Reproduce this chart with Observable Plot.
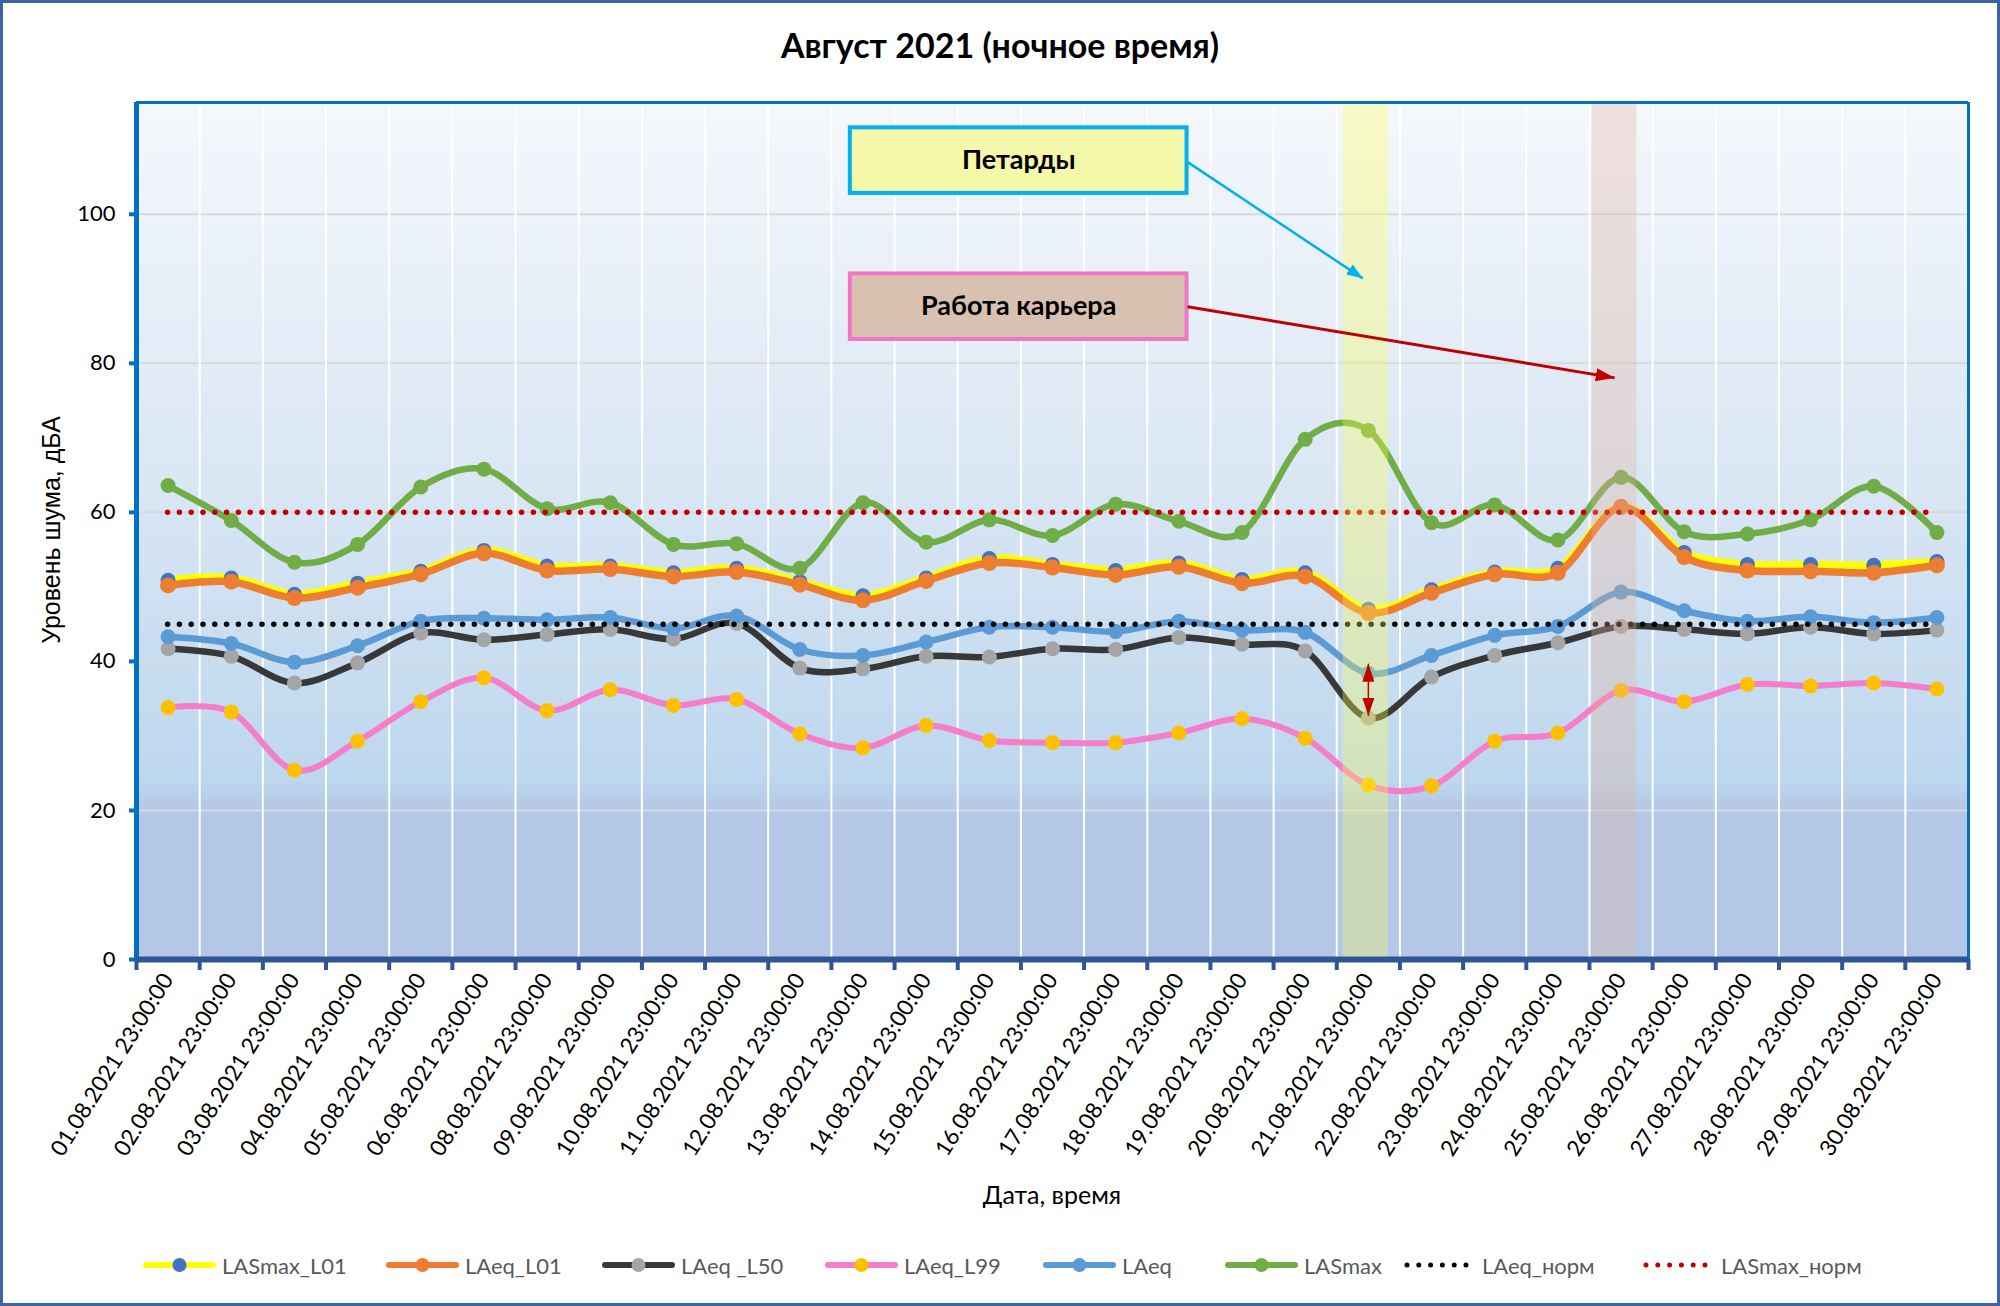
<!DOCTYPE html>
<html><head><meta charset="utf-8">
<script src="https://cdn.jsdelivr.net/npm/d3@7"></script>
<script src="https://cdn.jsdelivr.net/npm/@observablehq/plot@0.6"></script>
<style>
body{margin:0;background:#fff;}
#chart{position:relative;width:2000px;height:1306px;background:#fff;outline:3px solid #3F63A0;outline-offset:-3px;overflow:hidden;font-family:Lato,"Noto Sans",sans-serif;}
#title{position:absolute;left:0;top:24px;width:2000px;text-align:center;font-weight:bold;font-size:34px;line-height:42px;color:#000;}
#plot{position:absolute;left:0;top:80px;}
#ylabel{position:absolute;left:51px;top:530px;transform:translate(-50%,-50%) rotate(-90deg);font-family:"Liberation Sans",Arial,sans-serif;font-size:25px;white-space:nowrap;color:#000;}
#xlabel{position:absolute;left:1052px;top:1194px;transform:translate(-50%,-50%);font-size:25px;color:#000;white-space:nowrap;}
#legend{position:absolute;left:0;top:1250px;height:30px;width:2000px;}
.item{position:absolute;top:0;display:flex;align-items:center;height:30px;font-size:22px;color:#595959;white-space:nowrap;}
.item svg{margin-right:6px;}
</style></head>
<body>
<div id="chart">
  <div id="title"></div>
  <div id="plot"></div>
  <div id="ylabel"></div>
  <div id="xlabel"></div>
  <div id="legend"></div>
</div>
<script>
// ---- data ----
const titleText = "Август 2021 (ночное время)";
const yAxisTitle = "Уровень шума, дБА";
const xAxisTitle = "Дата, время";
const dates = ["01.08.2021 23:00:00","02.08.2021 23:00:00","03.08.2021 23:00:00","04.08.2021 23:00:00","05.08.2021 23:00:00","06.08.2021 23:00:00","08.08.2021 23:00:00","09.08.2021 23:00:00","10.08.2021 23:00:00","11.08.2021 23:00:00","12.08.2021 23:00:00","13.08.2021 23:00:00","14.08.2021 23:00:00","15.08.2021 23:00:00","16.08.2021 23:00:00","17.08.2021 23:00:00","18.08.2021 23:00:00","19.08.2021 23:00:00","20.08.2021 23:00:00","21.08.2021 23:00:00","22.08.2021 23:00:00","23.08.2021 23:00:00","24.08.2021 23:00:00","25.08.2021 23:00:00","26.08.2021 23:00:00","27.08.2021 23:00:00","28.08.2021 23:00:00","29.08.2021 23:00:00","30.08.2021 23:00:00"];
const lasmaxL01 = [50.9,51.2,49.0,50.5,52.1,54.9,52.8,52.8,51.9,52.5,50.7,48.8,51.2,53.8,53.0,52.2,53.2,51.0,51.9,47.0,49.6,52.0,52.5,60.8,54.6,53.0,53.0,52.9,53.4];
const laeqL01   = [50.2,50.7,48.5,49.9,51.7,54.5,52.2,52.4,51.4,52.0,50.3,48.2,50.8,53.2,52.6,51.6,52.7,50.5,51.4,46.5,49.2,51.7,51.9,60.7,54.0,52.2,52.1,51.9,52.9];
const laeqL50   = [41.7,40.7,37.1,39.8,43.8,42.9,43.6,44.3,43.0,45.1,39.1,39.0,40.7,40.6,41.7,41.6,43.2,42.3,41.4,32.4,37.9,40.8,42.5,44.7,44.3,43.7,44.6,43.7,44.2];
const laeqL99   = [33.8,33.2,25.4,29.3,34.6,37.8,33.4,36.2,34.1,34.9,30.3,28.4,31.4,29.4,29.1,29.1,30.4,32.3,29.7,23.4,23.3,29.3,30.4,36.1,34.6,36.9,36.7,37.1,36.3];
const laeq      = [43.3,42.4,39.9,42.1,45.4,45.8,45.6,45.9,44.4,46.1,41.6,40.8,42.6,44.6,44.6,44.0,45.4,44.2,43.9,38.4,40.8,43.5,44.7,49.3,46.8,45.4,46.0,45.2,45.9];
const lasmax    = [63.6,58.9,53.3,55.7,63.4,65.8,60.5,61.3,55.7,55.8,52.5,61.3,56.0,59.0,56.9,61.1,58.8,57.3,69.8,71.0,58.6,61.0,56.3,64.7,57.4,57.1,59.0,63.5,57.3];
const normLAeq = 45;
const normLASmax = 60;
const yTicks = [0,20,40,60,80,100];
const yMax = 115;
// annotations (in category-index / dB units)
const bandPetardy = [{x1: 18.6, x2: 19.32}];
const bandKariera = [{x1: 22.54, x2: 23.25}];
const boxes = [
  {label: "Петарды", x1: 10.8, x2: 16.13, y1: 102.8, y2: 111.6, fill: "#F5F7A9", stroke: "#00B0F0"},
  {label: "Работа карьера", x1: 10.8, x2: 16.13, y1: 83.2, y2: 92.0, fill: "#D9C1B1", stroke: "#F276C8"}
];
const arrowPetardy = [{x1: 16.14, y1: 107.0, x2: 18.91, y2: 91.4}];
const arrowKariera = [{x1: 16.14, y1: 87.6, x2: 22.9, y2: 78.05}];
const arrowDouble = [{x1: 19, y1: 32.7, x2: 19, y2: 39.7}];

const series = [
  {name: "LASmax_L01", values: lasmaxL01, line: "#FFFF00", dot: "#4472C4", w: 8, r: 7.5},
  {name: "LAeq_L01",   values: laeqL01,   line: "#ED7D31", dot: "#ED7D31", w: 7.5, r: 8},
  {name: "LAeq _L50",  values: laeqL50,   line: "#383838", dot: "#A5A5A5", w: 6.5, r: 7.5},
  {name: "LAeq_L99",   values: laeqL99,   line: "#F47EC9", dot: "#FFC000", w: 6, r: 7.5},
  {name: "LAeq",       values: laeq,      line: "#5B9BD5", dot: "#5B9BD5", w: 6.5, r: 7.5},
  {name: "LASmax",     values: lasmax,    line: "#70AD47", dot: "#70AD47", w: 6.5, r: 7.5}
];
const norms = [
  {name: "LAeq_норм", value: normLAeq, color: "#000000"},
  {name: "LASmax_норм", value: normLASmax, color: "#C00000"}
];

// ---- chart ----
const n = dates.length;
const idx = d3.range(n);
const rows = arr => arr.map((v, i) => ({i, v}));
const xDomain = [-0.5, n - 0.5];
const edges = d3.range(0, n + 1).map(k => k - 0.5);
const inner = edges.slice(1, -1);

document.getElementById("title").textContent = titleText;
document.getElementById("ylabel").textContent = yAxisTitle;
document.getElementById("xlabel").textContent = xAxisTitle;

const svg = Plot.plot({
  width: 2000,
  height: 1145,
  marginTop: 22,
  marginLeft: 136,
  marginRight: 32,
  marginBottom: 266,
  style: {fontFamily: "Lato, 'Noto Sans', sans-serif", background: "transparent"},
  x: {type: "linear", domain: xDomain, label: null},
  y: {type: "linear", domain: [0, yMax], label: null},
  marks: [
    Plot.frame({fill: "url(#bgGrad)", stroke: "none"}),
    Plot.gridY(yTicks.filter(t => t > 0), {stroke: "#D9D9D9", strokeOpacity: 1, strokeWidth: 2}),
    Plot.gridX(inner, {stroke: "#FFFFFF", strokeOpacity: 1, strokeWidth: 2}),
    ...series.flatMap(s => [
      Plot.line(rows(s.values), {x: "i", y: "v", stroke: s.line, strokeWidth: s.w, curve: "cardinal"}),
      Plot.dot(rows(s.values), {x: "i", y: "v", fill: s.dot, r: s.r, stroke: "none"})
    ]),
    ...norms.map(nm => Plot.ruleY([nm.value], {x1: 0, x2: n - 1, stroke: nm.color, strokeWidth: 5.5, strokeDasharray: "0 11.8", strokeLinecap: "round"})),
    Plot.rect(bandPetardy, {x1: "x1", x2: "x2", fill: "#FFFF55", fillOpacity: 0.32}),
    Plot.rect(bandKariera, {x1: "x1", x2: "x2", fill: "#E2B0A0", fillOpacity: 0.32}),
    Plot.rect([boxes[0]], {x1: "x1", x2: "x2", y1: "y1", y2: "y2", fill: boxes[0].fill, stroke: boxes[0].stroke, strokeWidth: 4}),
    Plot.rect([boxes[1]], {x1: "x1", x2: "x2", y1: "y1", y2: "y2", fill: boxes[1].fill, stroke: boxes[1].stroke, strokeWidth: 4}),
    Plot.text(boxes, {x: d => (d.x1 + d.x2) / 2, y: d => (d.y1 + d.y2) / 2, text: "label", fontWeight: "bold", fontSize: 27, fill: "#000"}),
    Plot.link(arrowPetardy, {x1: "x1", y1: "y1", x2: "x2", y2: "y2", stroke: "#00B0F0", strokeWidth: 2.5, ariaDescription: "arrow-cyan"}),
    Plot.link(arrowKariera, {x1: "x1", y1: "y1", x2: "x2", y2: "y2", stroke: "#C00000", strokeWidth: 3, ariaDescription: "arrow-red"}),
    Plot.link(arrowDouble, {x1: "x1", y1: "y1", x2: "x2", y2: "y2", stroke: "#C00000", strokeWidth: 1.5, ariaDescription: "arrow-double"}),
    Plot.ruleX([xDomain[1]], {stroke: "#0070C0", strokeWidth: 3}),
    Plot.ruleY([yMax], {stroke: "#0070C0", strokeWidth: 3}),
    Plot.ruleX([xDomain[0]], {stroke: "#0070C0", strokeWidth: 5}),
    Plot.axisY(yTicks, {tickSize: 7, tickPadding: 14, stroke: "#0070C0", strokeWidth: 4, fill: "#000", fontSize: 22, label: null}),
    Plot.axisX(edges, {tickFormat: () => "", tickSize: 11, stroke: "#2F5597", strokeWidth: 4, label: null}),
    Plot.ruleY([0], {stroke: "#2F5597", strokeWidth: 6}),
    Plot.axisX(idx, {tickFormat: i => dates[i], tickRotate: -58, tickSize: 0, tickPadding: 16, fill: "#000", fontSize: 22.5, label: null})
  ]
});

const defs = document.createElementNS("http://www.w3.org/2000/svg", "defs");
defs.innerHTML = `
<linearGradient id="bgGrad" x1="0" y1="0" x2="0" y2="1">
  <stop offset="0" stop-color="#F5F8FC"/>
  <stop offset="0.45" stop-color="#D9E6F4"/>
  <stop offset="0.79" stop-color="#BDD7EE"/>
  <stop offset="0.825" stop-color="#B4C7E7"/>
  <stop offset="1" stop-color="#B4C7E7"/>
</linearGradient>
<marker id="headCyan" viewBox="0 0 16 12" refX="16" refY="6" markerWidth="16" markerHeight="12" markerUnits="userSpaceOnUse" orient="auto-start-reverse"><path d="M0,0L16,6L0,12Z" fill="#00B0F0"/></marker>
<marker id="headRed" viewBox="0 0 19 13" refX="19" refY="6.5" markerWidth="19" markerHeight="13" markerUnits="userSpaceOnUse" orient="auto-start-reverse"><path d="M0,0L19,6.5L0,13Z" fill="#C00000"/></marker>
<marker id="headRedV" viewBox="0 0 18 12" refX="18" refY="6" markerWidth="18" markerHeight="12" markerUnits="userSpaceOnUse" orient="auto-start-reverse"><path d="M0,0L18,6L0,12Z" fill="#C00000"/></marker>`;
svg.insertBefore(defs, svg.firstChild);
const setMarkers = (desc, start, end) => {
  svg.querySelectorAll(`g[aria-description="${desc}"] path, g[aria-description="${desc}"] line`).forEach(p => {
    if (start) p.setAttribute("marker-start", `url(#${start})`);
    if (end) p.setAttribute("marker-end", `url(#${end})`);
  });
};
setMarkers("arrow-cyan", null, "headCyan");
setMarkers("arrow-red", null, "headRed");
setMarkers("arrow-double", "headRedV", "headRedV");
document.getElementById("plot").appendChild(svg);

// ---- legend ----
const legendLeft = [143, 386, 602, 825, 1043, 1225, 1403, 1642];
const legendEl = document.getElementById("legend");
const legendItems = [
  ...series.map(s => ({name: s.name, kind: "line", line: s.line, dot: s.dot})),
  ...norms.map(nm => ({name: nm.name, kind: "dots", color: nm.color}))
];
legendItems.forEach((it, k) => {
  const div = document.createElement("div");
  div.className = "item";
  div.style.left = legendLeft[k] + "px";
  let sw;
  if (it.kind === "line") {
    sw = `<svg width="73" height="20"><line x1="3" y1="10" x2="70" y2="10" stroke="${it.line}" stroke-width="6" stroke-linecap="round"/><circle cx="36.5" cy="10" r="7" fill="${it.dot}"/></svg>`;
  } else {
    sw = `<svg width="73" height="20"><line x1="4" y1="10" x2="68" y2="10" stroke="${it.color}" stroke-width="5" stroke-dasharray="0 11.8" stroke-linecap="round"/></svg>`;
  }
  div.innerHTML = sw + `<span></span>`;
  div.querySelector("span").textContent = it.name;
  legendEl.appendChild(div);
});
</script>
</body></html>
